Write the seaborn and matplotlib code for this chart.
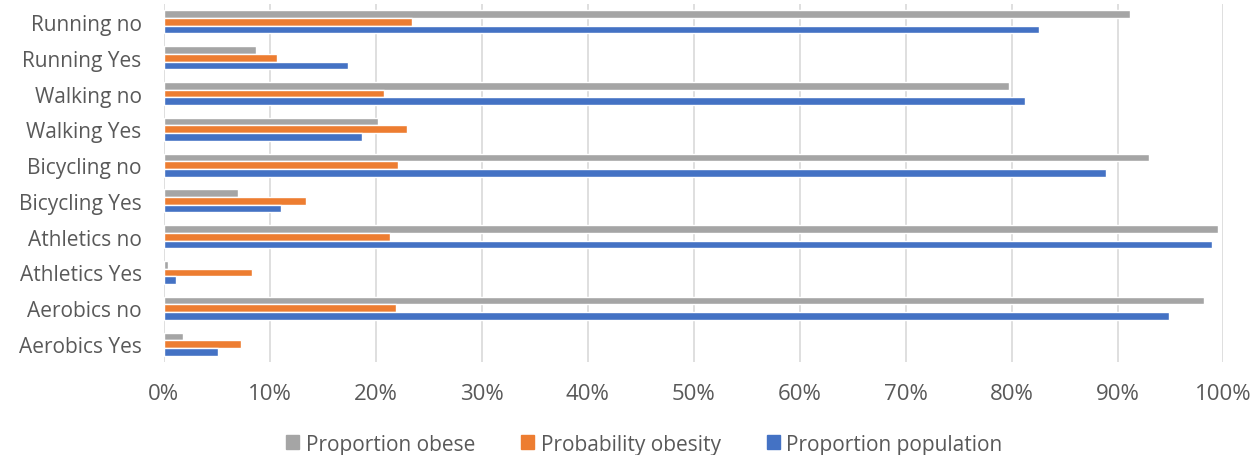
import seaborn as sns
import matplotlib.pyplot as plt
import pandas as pd
from matplotlib.ticker import PercentFormatter

# categories, top to bottom
categories = ["Running no", "Running Yes", "Walking no", "Walking Yes",
              "Bicycling no", "Bicycling Yes", "Athletics no", "Athletics Yes",
              "Aerobics no", "Aerobics Yes"]
series = ["Proportion obese", "Probability obesity", "Proportion population"]

proportion_obese = [0.912, 0.087, 0.798, 0.202, 0.930, 0.070, 0.995, 0.004, 0.982, 0.018]
probability_obesity = [0.234, 0.107, 0.208, 0.229, 0.221, 0.134, 0.213, 0.083, 0.219, 0.073]
proportion_population = [0.826, 0.174, 0.813, 0.187, 0.889, 0.111, 0.989, 0.011, 0.949, 0.051]

colors = ["#a5a5a5", "#ed7d31", "#4472c4"]

df = pd.DataFrame({
    "category": categories * 3,
    "series": sum([[s] * len(categories) for s in series], []),
    "value": proportion_obese + probability_obesity + proportion_population,
})

sns.set_style("white")
plt.rcParams['font.family'] = ['Open Sans', 'DejaVu Sans']
text_color = "#595959"

fig, ax = plt.subplots(figsize=(12.51, 4.56), dpi=100)
sns.barplot(data=df, y="category", x="value", hue="series", order=categories,
            hue_order=series, palette=colors, orient="h", width=0.64, gap=0.0,
            ax=ax, saturation=1, legend=False)

ax.set_xlim(0, 1)
ax.set_xticks([i / 10 for i in range(11)])
ax.xaxis.set_major_formatter(PercentFormatter(1.0, decimals=0))
ax.grid(axis="x", color="#d9d9d9", linewidth=1.2)
ax.set_axisbelow(True)
for s in ax.spines.values():
    s.set_visible(False)
ax.set_xlabel("")
ax.set_ylabel("")
ax.tick_params(axis="y", length=0, labelsize=15, labelcolor=text_color, pad=16)
ax.tick_params(axis="x", length=0, labelsize=16, labelcolor=text_color, pad=15)

handles = [plt.Rectangle((0, 0), 1, 1, color=c) for c in colors]
fig.legend(handles, series, loc="center", bbox_to_anchor=(0.515, 0.024), ncol=3,
           frameon=False, fontsize=15, labelcolor=text_color, handlelength=0.65,
           handleheight=0.65, handletextpad=0.3, columnspacing=2.2)

fig.subplots_adjust(left=0.131, right=0.978, top=0.989, bottom=0.204)
fig.savefig("out.png", dpi=100)
